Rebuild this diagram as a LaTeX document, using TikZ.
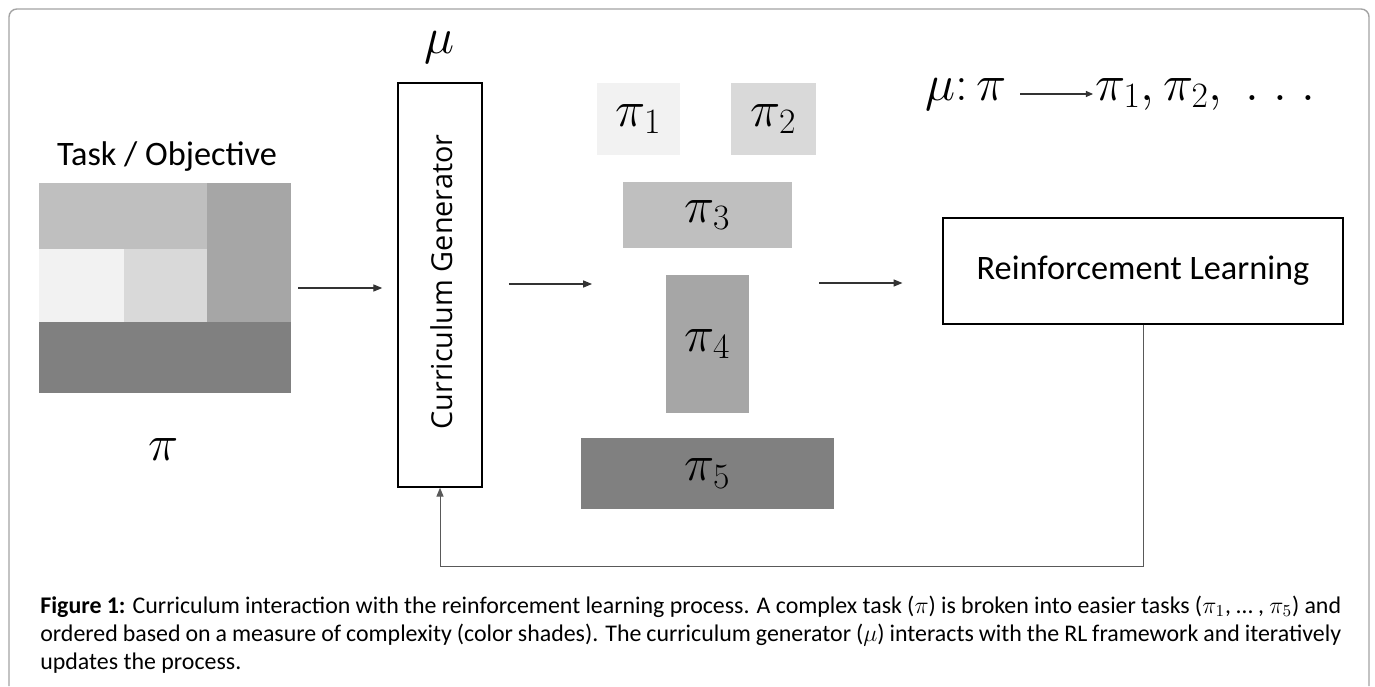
\RequirePackage{fix-cm}
\documentclass[tikz,border=0pt]{standalone}
\usepackage{fontspec}
\setmainfont{Carlito}
\newfontfamily\gensans{Open Sans}
\usetikzlibrary{arrows.meta}
\definecolor{shadeA}{HTML}{F2F2F2}
\definecolor{shadeB}{HTML}{D9D9D9}
\definecolor{shadeC}{HTML}{BFBFBF}
\definecolor{shadeD}{HTML}{A6A6A6}
\definecolor{shadeE}{HTML}{808080}
\definecolor{framegray}{HTML}{A3A3A3}
\tikzset{font={\fontsize{19.5pt}{23pt}\selectfont},
	piblock/.style={inner sep=0pt, font={\fontsize{29pt}{33pt}\selectfont}},
	outline/.style={draw=black, line width=0.9pt, inner sep=0pt},
	arr/.style={draw=black!80, line width=0.6pt, -{Triangle[length=5pt,width=4pt]}},
	caption/.style={inner sep=0pt, anchor=base west, font={\fontsize{13.6pt}{16pt}\selectfont}}}

\begin{document}
\begin{tikzpicture}[x=0.02cm, y=-0.02cm]
		\useasboundingbox (0,0) rectangle (1375,686);
		%Frame
		\draw[framegray, line width=0.8pt, rounded corners=4.5pt] (9,686) -- (9,9) -- (1369,9) -- (1369,686);
		%Task square
		\node[inner sep=0pt, minimum width=5.04cm, minimum height=4.2cm] (tasksq) at (165,288) {};
		\foreach \col/\xa/\ya/\xb/\yb in {shadeC/39/183/207/249, shadeD/207/183/291/322,
			shadeA/39/249/124/322, shadeB/124/249/207/322, shadeE/39/322/291/393}
		\fill[\col] (\xa,\ya) rectangle (\xb,\yb);
		\node (tasklbl) at (167,157) {Task / Objective};
		\node[piblock] (pilbl) at (164,450) {$\pi$};
		%Curriculum generator
		\node[outline, minimum width=1.68cm, minimum height=8.08cm] (gen) at (440,285) {};
		\node[rotate=90, font={\gensans\fontsize{16.4pt}{19pt}\selectfont}] (genlbl) at (442,282) {Curriculum Generator};
		\node[piblock] (mulbl) at (440,47) {$\mu$};
		%Sub-tasks
		\node[piblock, fill=shadeA, minimum width=1.66cm, minimum height=1.44cm] (p1) at (638.5,119) {$\pi_1$};
		\node[piblock, fill=shadeB, minimum width=1.7cm, minimum height=1.44cm] (p2) at (773.5,119) {$\pi_2$};
		\node[piblock, fill=shadeC, minimum width=3.38cm, minimum height=1.32cm] (p3) at (707.5,215) {$\pi_3$};
		\node[piblock, fill=shadeD, minimum width=1.66cm, minimum height=2.76cm] (p4) at (707.5,344) {$\pi_4$};
		\node[piblock, fill=shadeE, minimum width=5.06cm, minimum height=1.42cm] (p5) at (707.5,473.5) {$\pi_5$};
		%Reinforcement learning
		\node[outline, line width=0.7pt, minimum width=8cm, minimum height=2.12cm] (rl) at (1143,271) {Reinforcement Learning};
		%Mapping
		\node[piblock, anchor=base west] (mapsrc) at (925,100) {$\mu{:}\,\pi$};
		\node[piblock, anchor=base west] (mapimg) at (1095,100) {$\pi_1, \pi_2, \;.\;.\;.$};
		\draw[arr, -{Triangle[length=4pt,width=3.4pt]}, shorten <=0.26cm, shorten >=0.04cm] (mapsrc.east) -- (mapsrc.east -| mapimg.west);
		%Arrows
		\coordinate (tin) at (597,284);
		\coordinate (tout) at (819,283);
		\draw[arr, shorten <=0.14cm, shorten >=0.3cm] (tasksq.east) -- (tasksq.east -| gen.west);
		\draw[arr, shorten <=0.52cm, shorten >=0.1cm] (gen.east |- tin) -- (tin);
		\draw[arr, shorten >=0.8cm] (tout) -- (tout -| rl.west);
		\draw[arr, draw=black!65, line width=0.5pt] (rl.south) -- ++(0,242) -| (gen.south);
		%Caption
		\node[caption] (cap1) at (40,613) {\makebox[26.02cm][s]{\textbf{Figure 1:} Curriculum interaction with the reinforcement learning process. A complex task ($\pi$) is broken into easier tasks ($\pi_1$, … , $\pi_5$) and}};
		\node[caption] (cap2) at (40,641) {\makebox[26.02cm][s]{ordered based on a measure of complexity (color shades). The curriculum generator ($\mu$) interacts with the RL framework and iteratively}};
		\node[caption] (cap3) at (40,669) {updates the process.};
\end{tikzpicture}
\end{document}
